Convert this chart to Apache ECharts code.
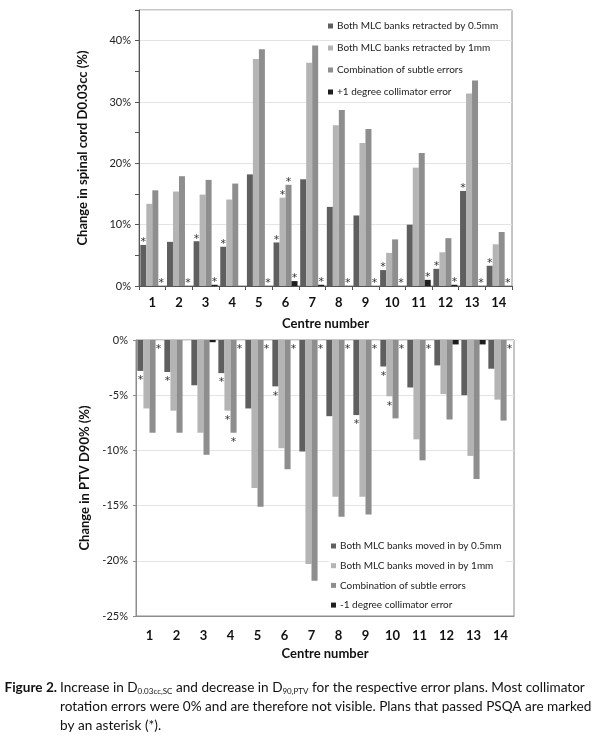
<!DOCTYPE html>
<html>
<head>
<meta charset="utf-8">
<script src="https://cdn.jsdelivr.net/npm/echarts@6/dist/echarts.min.js"></script>
<style>
html,body{margin:0;padding:0;background:#fff;}
#c{width:600px;height:738px;}
</style>
</head>
<body>
<div id="c"></div>
<script>
// ---- data ----
var categories = ['1','2','3','4','5','6','7','8','9','10','11','12','13','14'];

// Top chart: change in spinal cord D0.03cc (%)
var topNames = ['Both MLC banks retracted by 0.5mm','Both MLC banks retracted by 1mm','Combination of subtle errors','+1 degree collimator error'];
var cordRetract05 = [6.7,7.2,7.3,6.4,18.2,7.1,17.4,12.9,11.5,2.6,10.0,2.8,15.5,3.3];
var cordRetract1  = [13.4,15.4,14.9,14.1,37.0,14.4,36.4,26.2,23.3,5.4,19.3,5.5,31.4,6.8];
var cordCombo     = [15.6,17.9,17.3,16.7,38.6,16.5,39.2,28.7,25.6,7.6,21.7,7.8,33.5,8.8];
var cordColl      = [0,0,0.2,0,0,0.8,0.2,0,0,0,1.0,0.2,0,0];
// PSQA pass flags (asterisks), top chart
var cordPass05    = [1,0,1,1,0,1,0,0,0,1,0,1,1,1];
var cordPass1     = [0,0,0,0,0,1,0,0,0,0,0,0,0,0];
var cordPassCombo = [0,0,0,0,0,1,0,0,0,0,0,0,0,0];
var cordPassColl  = [1,1,1,0,1,1,1,1,1,1,1,1,1,1];

// Bottom chart: change in PTV D90% (%)
var botNames = ['Both MLC banks moved in by 0.5mm','Both MLC banks moved in by 1mm','Combination of subtle errors','-1 degree collimator error'];
var ptvMoved05 = [-2.8,-2.9,-4.1,-3.0,-6.2,-4.2,-10.1,-6.9,-6.8,-2.4,-4.3,-2.3,-5.0,-2.6];
var ptvMoved1  = [-6.2,-6.4,-8.4,-6.4,-13.4,-9.8,-20.3,-14.2,-14.2,-5.1,-9.0,-4.9,-10.5,-5.4];
var ptvCombo   = [-8.4,-8.4,-10.4,-8.4,-15.1,-11.7,-21.8,-16.0,-15.8,-7.1,-10.9,-7.2,-12.6,-7.3];
var ptvColl    = [0,0,-0.2,0,0,0,0,0,0,0,0,-0.4,-0.4,0];
var ptvPass05    = [1,1,0,1,0,1,0,0,1,1,0,0,0,0];
var ptvPass1     = [0,0,0,1,0,0,0,0,0,1,0,0,0,0];
var ptvPassCombo = [0,0,0,1,0,0,0,0,0,0,0,0,0,0];
var ptvPassColl  = [1,0,0,1,1,1,1,1,1,1,1,0,0,1];

var colors = ['#5f5f5f','#b4b4b4','#8e8e8e','#1e1e1e'];
var FONT = 'Lato';

function star(flags){ return function(p){ return flags[p.dataIndex] ? '*' : ''; }; }

function barSeries(name, data, flags, color, axisIdx, top){
  return {
    type:'bar', name:name, data:data, xAxisIndex:axisIdx, yAxisIndex:axisIdx,
    barGap:'0%', barCategoryGap:'10%',
    itemStyle:{color:color},
    label:{show:true, position: top ? 'top' : 'bottom', distance: top ? -3 : 4,
      formatter: star(flags), fontSize:11, color:'#333', fontFamily:'DejaVu Sans'}
  };
}

var axisNameStyle = {fontWeight:'bold', fontSize:13, color:'#111', fontFamily:FONT};
var catLabel = {fontWeight:'bold', fontSize:13, color:'#111', fontFamily:FONT};
var valLabel = {fontSize:11, color:'#222', fontFamily:FONT};

var chart = echarts.init(document.getElementById('c'), null, {renderer:'canvas'});
chart.setOption({
  animation:false,
  backgroundColor:'#fff',
  textStyle:{fontFamily:FONT},
  color:colors,
  grid:[
    {left:139, right:88, top:10, height:276, show:true, borderColor:'#8c8c8c', borderWidth:1},
    {left:136, right:86, top:340, height:276, show:true, borderColor:'#8c8c8c', borderWidth:1}
  ],
  legend:[
    {data:topNames, orient:'vertical', left:326, top:19, itemWidth:5, itemHeight:5, itemGap:12,
     icon:'rect', padding:[2,4,2,2],
     textStyle:{fontSize:10, color:'#222', fontFamily:FONT, padding:[0,0,0,-1]}},
    {data:botNames, orient:'vertical', left:329, top:539, itemWidth:5, itemHeight:5, itemGap:9.7,
     icon:'rect', backgroundColor:'#fff', padding:[2,4,2,2],
     textStyle:{fontSize:10, color:'#222', fontFamily:FONT, padding:[0,0,0,-1]}}
  ],
  xAxis:[
    {gridIndex:0, type:'category', data:categories,
     axisLine:{lineStyle:{color:'#555'}}, axisTick:{show:true, length:4, lineStyle:{color:'#555'}},
     axisLabel:Object.assign({margin:10}, catLabel),
     name:'Centre number', nameLocation:'middle', nameGap:31, nameTextStyle:axisNameStyle},
    {gridIndex:1, type:'category', data:categories, position:'bottom',
     axisLine:{onZero:false, lineStyle:{color:'#8c8c8c'}}, axisTick:{show:false},
     axisLabel:Object.assign({margin:13}, catLabel),
     name:'Centre number', nameLocation:'middle', nameGap:31, nameTextStyle:axisNameStyle}
  ],
  yAxis:[
    {gridIndex:0, type:'value', min:0, max:45, interval:10,
     axisLine:{show:true, lineStyle:{color:'#555'}},
     axisTick:{show:true, length:4, lineStyle:{color:'#555'}},
     minorTick:{show:true, splitNumber:2, length:4, lineStyle:{color:'#555'}},
     splitLine:{show:true, lineStyle:{color:'#e4e4e4'}},
     axisLabel:Object.assign({formatter:'{value}%', showMaxLabel:false, margin:8}, valLabel),
     name:'Change in spinal cord D0.03cc (%)', nameLocation:'middle', nameGap:50, nameRotate:90,
     nameTextStyle:axisNameStyle},
    {gridIndex:1, type:'value', min:-25, max:0, interval:5,
     axisLine:{show:true, lineStyle:{color:'#8c8c8c'}},
     axisTick:{show:true, length:3, lineStyle:{color:'#8c8c8c'}},
     splitLine:{show:true, lineStyle:{color:'#e4e4e4'}},
     axisLabel:Object.assign({formatter:'{value}%', margin:8}, valLabel),
     name:'Change in PTV D90% (%)', nameLocation:'middle', nameGap:44, nameRotate:90,
     nameTextStyle:axisNameStyle}
  ],
  series:[
    barSeries(topNames[0], cordRetract05, cordPass05, colors[0], 0, true),
    barSeries(topNames[1], cordRetract1, cordPass1, colors[1], 0, true),
    barSeries(topNames[2], cordCombo, cordPassCombo, colors[2], 0, true),
    barSeries(topNames[3], cordColl, cordPassColl, colors[3], 0, true),
    barSeries(botNames[0], ptvMoved05, ptvPass05, colors[0], 1, false),
    barSeries(botNames[1], ptvMoved1, ptvPass1, colors[1], 1, false),
    barSeries(botNames[2], ptvCombo, ptvPassCombo, colors[2], 1, false),
    barSeries(botNames[3], ptvColl, ptvPassColl, colors[3], 1, false)
  ],
  graphic:[
    {type:'text', x:57, y:688, style:{text:'Figure 2.', align:'right', verticalAlign:'middle',
      font:'bold 13.6px Lato', fill:'#111'}},
    {type:'text', x:60, y:688, style:{
      text:'Increase in D{sub|0.03cc,SC} and decrease in D{sub|90,PTV} for the respective error plans. Most collimator',
      align:'left', verticalAlign:'middle', font:'13.6px Lato', fill:'#111',
      rich:{sub:{fontSize:8, fontFamily:FONT, fill:'#111', verticalAlign:'bottom', lineHeight:8}}}},
    {type:'text', x:60, y:707, style:{
      text:'rotation errors were 0% and are therefore not visible. Plans that passed PSQA are marked',
      align:'left', verticalAlign:'middle', font:'13.6px Lato', fill:'#111'}},
    {type:'text', x:60, y:726, style:{
      text:'by an asterisk (*).',
      align:'left', verticalAlign:'middle', font:'13.6px Lato', fill:'#111'}}
  ]
});
</script>
</body>
</html>
